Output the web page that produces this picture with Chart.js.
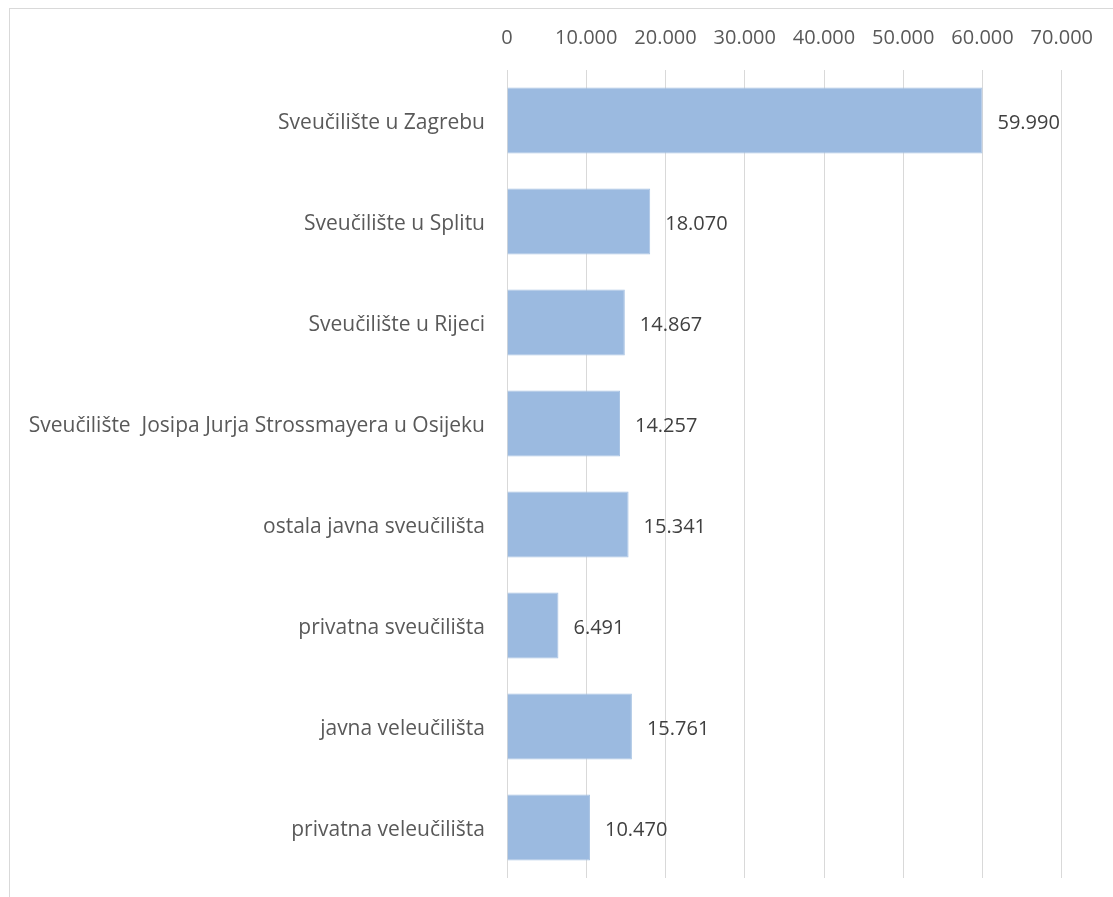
<!DOCTYPE html>
<html>
<head>
<meta charset="utf-8">
<script src="https://cdn.jsdelivr.net/npm/chart.js@4.4.1/dist/chart.umd.min.js"></script>
<style>
  html, body { margin: 0; padding: 0; background: #fff; }
  #wrap { position: relative; width: 1113px; height: 897px; }
  #frame { position: absolute; left: 9px; top: 8px; width: 1110px; height: 900px;
           border: 1px solid #d9d9d9; box-sizing: border-box; pointer-events: none; }
</style>
</head>
<body>
<div id="wrap">
  <canvas id="chart" width="1113" height="897"></canvas>
  <div id="frame"></div>
</div>
<script>
const categories = [
    'Sveučilište u Zagrebu',
    'Sveučilište u Splitu',
    'Sveučilište u Rijeci',
    'Sveučilište  Josipa Jurja Strossmayera u Osijeku',
    'ostala javna sveučilišta',
    'privatna sveučilišta',
    'javna veleučilišta',
    'privatna veleučilišta'
];
const studentCounts = [59990, 18070, 14867, 14257, 15341, 6491, 15761, 10470];
const tickMin = 0;
const tickMax = 70000;
const tickStep = 10000;

function fmt(v) {
    return String(Math.round(v)).replace(/\B(?=(\d{3})+(?!\d))/g, '.');
}

const fontFamily = "'Open Sans', 'Noto Sans', sans-serif";

// value labels next to each bar
const valueLabels = {
    id: 'valueLabels',
    afterDatasetsDraw(chart) {
        const ctx = chart.ctx;
        const meta = chart.getDatasetMeta(0);
        ctx.save();
        ctx.font = '20px ' + fontFamily;
        ctx.fillStyle = '#404040';
        ctx.textAlign = 'left';
        ctx.textBaseline = 'middle';
        meta.data.forEach((bar, i) => {
            ctx.fillText(fmt(studentCounts[i]), bar.x + 15, bar.y + 3);
        });
        ctx.restore();
    }
};

const ctx = document.getElementById('chart');
new Chart(ctx, {
    type: 'bar',
    data: {
        labels: categories,
        datasets: [{
            data: studentCounts,
            backgroundColor: '#9bbae0',
            borderColor: '#a9c4e4',
            borderWidth: 1,
            categoryPercentage: 0.655,
            barPercentage: 1
        }]
    },
    options: {
        indexAxis: 'y',
        responsive: false,
        animation: false,
        layout: { padding: { left: 0, right: 50, top: 0, bottom: 19 } },
        plugins: {
            legend: { display: false },
            tooltip: { enabled: false }
        },
        scales: {
            x: {
                position: 'top',
                min: tickMin,
                max: tickMax,
                grid: { color: '#d9d9d9', lineWidth: 1, drawTicks: false },
                border: { display: false },
                ticks: {
                    stepSize: tickStep,
                    padding: 20,
                    color: '#595959',
                    font: { family: fontFamily, size: 20 },
                    callback: v => fmt(v)
                },
                afterFit(scale) { scale.height = 70; }
            },
            y: {
                grid: { display: false, drawTicks: false },
                border: { display: false },
                ticks: {
                    padding: 22,
                    labelOffset: 3,
                    color: '#595959',
                    font: { family: fontFamily, size: 21 }
                },
                afterFit(scale) {
                    scale.width = 507;
                    scale.paddingTop = 0;
                    scale.paddingBottom = 0;
                }
            }
        }
    },
    plugins: [valueLabels]
});
</script>
</body>
</html>
